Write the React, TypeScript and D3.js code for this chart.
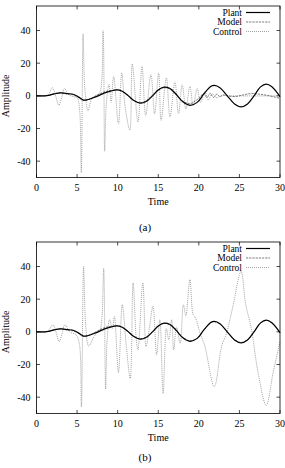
import React from "react";
import * as d3 from "d3";

type Pt = [number, number];

const xTicks = [0, 5, 10, 15, 20, 25, 30];
const yTicks = [-40, -20, 0, 20, 40];
const seriesNames = ["Plant", "Model", "Control"];

// plant response, same in both runs
const plant: Pt[] = [
  [0, 0], [1, 0], [1.5, 0.3], [2.2, 1.2], [3, 1.8], [3.8, 1.4], [4.6, 0.8],
  [5.2, -0.8], [5.8, -2.6], [6.3, -2.4], [7, -1.2], [7.6, 0], [8.4, 1.8],
  [9.2, 3], [9.9, 3.6], [10.5, 3], [11.2, 0.5], [12, -2.8], [12.8, -4.5],
  [13.5, -3.5], [14.3, 0], [15, 3.6], [15.7, 5.3], [16.4, 4.6], [17.2, 1],
  [18, -3.5], [18.9, -5.8], [19.8, -4], [20.6, 1], [21.5, 5.8], [21.9, 6.4],
  [22.6, 5], [23.5, 0], [24.4, -5], [25.2, -6.8], [26, -5], [26.8, 0],
  [27.6, 5.5], [28.3, 7.2], [29, 5.6], [30, -0.5],
];

const modelA: Pt[] = [
  [0, 0], [1, 0], [1.6, 0.5], [2.3, 1.5], [3, 2], [3.7, 1.2], [4.5, 0.6],
  [5.2, -1], [5.7, -2.8], [6.3, -2.2], [7, -0.8], [7.7, 1], [8.4, 2.5],
  [9.2, 3.2], [9.9, 3.8], [10.6, 2.6], [11.3, 0], [12, -3], [12.8, -4.2],
  [13.5, -3], [14.3, 0.5], [15, 3.8], [15.7, 5], [16.4, 4.2], [17.2, 0.5],
  [18, -3.2], [18.9, -4.8], [19.6, -3], [20.2, -0.5], [20.6, 1.5], [21, -1],
  [21.4, 1.5], [21.8, -1], [22.2, 1], [22.6, -0.5], [23, 0.5], [23.5, 0],
  [24.5, -0.4], [25.5, 0.6], [26.5, 1.4], [27.5, 1], [28.5, 0.2], [30, -1.5],
];

const controlA: Pt[] = [
  [0, 0], [1.2, 0], [1.5, 1], [1.95, 5], [2.35, 0], [2.75, -5.8], [3.1, -1],
  [3.45, 4.5], [3.9, 1], [4.5, -0.5], [5, -1], [5.3, -8], [5.52, -47],
  [5.74, 38], [5.95, 5], [6.35, -9], [6.8, -2], [7.3, 0], [7.8, 2],
  [8.2, 40], [8.4, -34], [8.6, -5], [8.93, 7], [9.2, -4], [9.5, 12],
  [10.1, -17], [10.5, 14], [10.9, -6], [11.5, -21], [11.8, 19.5],
  [12.5, -16], [13.0, 18], [13.45, -12], [14.1, 13], [14.55, -11],
  [15.05, 14], [15.35, -15], [16.0, 11], [16.45, -13], [17.05, 8.6],
  [17.5, -11], [17.95, 7], [18.4, -8], [18.9, 6], [19.3, -6], [19.8, 4.5],
  [20.2, -4], [20.75, 2.5], [21.15, -2.5], [21.65, 1.2], [22.2, -1.2],
  [22.8, 0.3], [24, 0], [30, 0],
];

const modelB: Pt[] = [
  [0, 0], [1, 0], [1.6, 0.5], [2.3, 1.5], [3, 2], [3.7, 1.2], [4.5, 0.6],
  [5.2, -1], [5.7, -2.8], [6.3, -2.2], [7, -0.8], [7.7, 1], [8.4, 2.6],
  [9.2, 3.4], [9.9, 3.8], [10.6, 2.6], [11.3, 0], [12, -3], [12.8, -4.3],
  [13.5, -3.2], [14.3, 0.3], [15, 3.6], [15.7, 5.1], [16.4, 4.4], [17.2, 0.8],
  [18, -3.4], [18.9, -5.5], [19.8, -3.8], [20.6, 1], [21.5, 5.6], [21.9, 6.2],
  [22.6, 4.8], [23.5, 0], [24.4, -4.8], [25.2, -6.5], [26, -4.8], [26.8, 0],
  [27.6, 5.3], [28.3, 7], [29, 5.4], [30, -0.5],
];

const controlB: Pt[] = [
  [0, 0], [1.2, 0], [1.5, 1], [2.05, 4.3], [2.4, 0], [2.8, -6], [3.15, -1],
  [3.5, 4.3], [4.1, 0], [4.9, -2], [5.3, -8], [5.53, -46], [5.8, 40],
  [6.05, 5], [6.43, -8.6], [7.2, -2], [7.8, 1], [8.05, 8], [8.28, 39],
  [8.52, -35], [8.7, -5], [9.0, 7.4], [9.35, 2], [9.6, 9.4], [10.1, -25],
  [10.57, 16.6], [11.07, -9], [11.55, -28.5], [11.9, 30], [12.3, -5],
  [12.5, -11], [13.1, 30], [13.5, -9], [13.9, 2], [14.35, 15.6],
  [14.8, -14], [15.2, 7.4], [15.6, -37.7], [16.0, 2], [16.3, -5],
  [16.65, 7.4], [16.9, -11], [17.25, 3], [17.7, -7], [18.1, 16.6],
  [18.4, 10], [18.9, 32], [19.3, 10.5], [19.6, 8.4], [20.1, 0],
  [20.75, -9], [21.9, -33.6], [22.8, -9], [23.4, -1], [24.2, 15.6],
  [25.2, 37], [25.75, 17.6], [26.5, 1], [27.3, -25], [28.3, -45],
  [29.15, -25], [30, -6],
];

const font = "'Liberation Serif', 'Times New Roman', serif";
const styles = [
  { stroke: "#000", width: 1.2, dash: "none" },
  { stroke: "#444", width: 0.7, dash: "2.2,1" },
  { stroke: "#8a8a8a", width: 0.8, dash: "1,1" },
];

type PanelProps = {
  top: number;
  label: string;
  labelY: number;
  series: Pt[][];
};

const Panel = ({ top, label, labelY, series }: PanelProps) => {
  const left = 36.5;
  const right = 280;
  const bottom = top + 171.5;
  const x = d3.scaleLinear().domain([0, 30]).range([left, right]);
  const y = d3.scaleLinear().domain([-50, 55]).range([bottom, top]);
  const line = d3
    .line<Pt>()
    .x((d) => x(d[0]))
    .y((d) => y(d[1]))
    .curve(d3.curveCatmullRom.alpha(0.5));
  const tick = 3.5;

  return (
    <g fontFamily={font} fontSize={10} fill="#000">
      <defs>
        <clipPath id={`clip-${label}`}>
          <rect x={left} y={top} width={right - left} height={bottom - top} />
        </clipPath>
      </defs>
      <g clipPath={`url(#clip-${label})`}>
        {series
          .map((s, i) => (
            <path
              key={i}
              d={line(s) ?? ""}
              fill="none"
              stroke={styles[i].stroke}
              strokeWidth={styles[i].width}
              strokeDasharray={styles[i].dash}
            />
          ))
          .reverse()}
      </g>
      <rect
        x={left}
        y={top}
        width={right - left}
        height={bottom - top}
        fill="none"
        stroke="#000"
        strokeWidth={0.8}
      />
      {xTicks.map((t) => (
        <g key={`x${t}`}>
          <line x1={x(t)} x2={x(t)} y1={bottom} y2={bottom - tick} stroke="#000" strokeWidth={0.7} />
          <line x1={x(t)} x2={x(t)} y1={top} y2={top + tick} stroke="#000" strokeWidth={0.7} />
          <text x={x(t)} y={bottom + 13.5} textAnchor="middle">
            {t}
          </text>
        </g>
      ))}
      {yTicks.map((t) => (
        <g key={`y${t}`}>
          <line x1={left} x2={left + tick} y1={y(t)} y2={y(t)} stroke="#000" strokeWidth={0.7} />
          <line x1={right} x2={right - tick} y1={y(t)} y2={y(t)} stroke="#000" strokeWidth={0.7} />
          <text x={left - 6} y={y(t) + 3.5} textAnchor="end">
            {t}
          </text>
        </g>
      ))}
      <text x={(left + right) / 2} y={bottom + 27} textAnchor="middle">
        Time
      </text>
      <text
        transform={`translate(${9},${y(0)}) rotate(-90)`}
        textAnchor="middle"
      >
        Amplitude
      </text>
      {seriesNames.map((name, i) => {
        const ly = top + 9.5 + i * 9.5;
        return (
          <g key={name}>
            <text x={242} y={ly} textAnchor="end" fontSize={9.5}>
              {name}
            </text>
            <line
              x1={246}
              x2={270}
              y1={ly - 3}
              y2={ly - 3}
              stroke={styles[i].stroke}
              strokeWidth={styles[i].width}
              strokeDasharray={styles[i].dash}
            />
          </g>
        );
      })}
      <text x={145} y={labelY} textAnchor="middle" fontSize={11}>
        {label}
      </text>
    </g>
  );
};

export default function App() {
  return (
    <svg
      width={285}
      height={468}
      style={{ position: "absolute", left: 0, top: 0, background: "#fff" }}
    >
      <Panel top={6} label="(a)" labelY={231} series={[plant, modelA, controlA]} />
      <Panel top={242} label="(b)" labelY={461} series={[plant, modelB, controlB]} />
    </svg>
  );
}
